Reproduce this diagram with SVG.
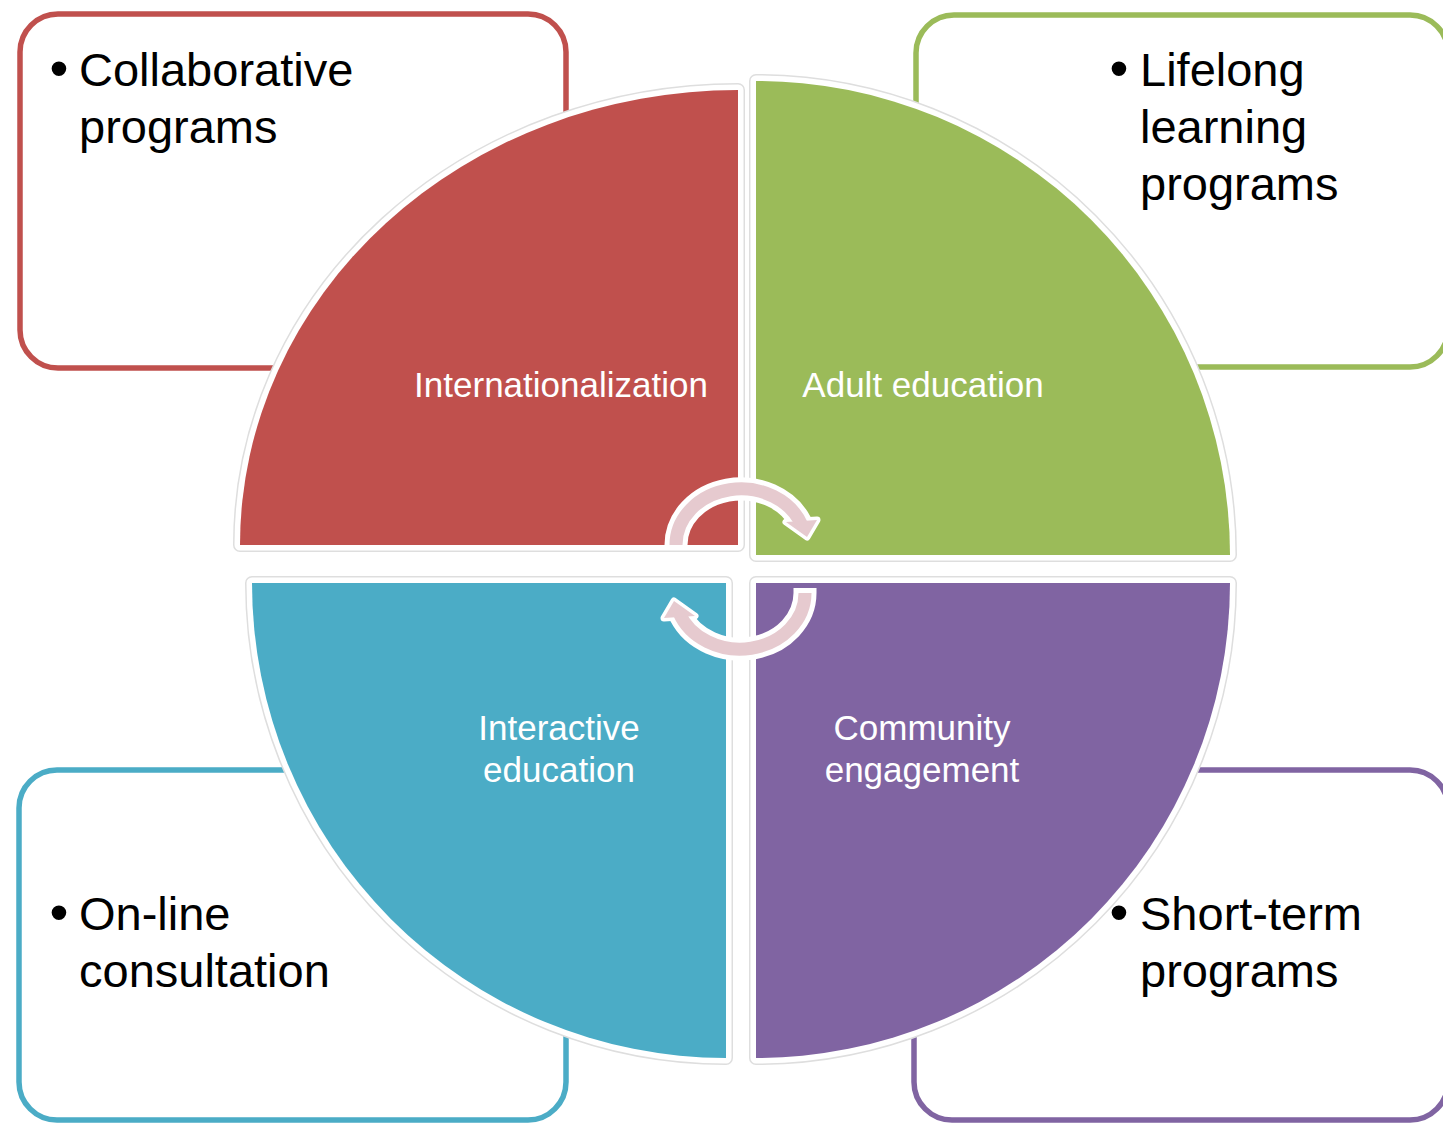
<svg xmlns="http://www.w3.org/2000/svg" width="1443" height="1126" viewBox="0 0 1443 1126">
<style>
.box{fill:#fff;stroke-width:5.5}
.t{font-family:"Liberation Sans",Arial,sans-serif;font-size:47px;fill:#000}
.bul{font-family:"Liberation Sans",Arial,sans-serif;font-size:54px;fill:#000;text-anchor:middle}
.lbl{font-family:"Liberation Sans",Arial,sans-serif;font-size:35px;fill:#fff;text-anchor:middle}
.halo{fill:none;stroke:#dedede;stroke-width:14;stroke-linejoin:round}
.edge{fill:none;stroke:#fff;stroke-width:11;stroke-linejoin:round}
</style>
<defs>
<path id="pRed" d="M738 545 L240 545 A498 455 0 0 1 738 90 Z"/>
<path id="pGreen" d="M756 555 L756 81 A474 474 0 0 1 1230 555 Z"/>
<path id="pBlue" d="M726 583 L726 1058 A474 475 0 0 1 252 583 Z"/>
<path id="pPurple" d="M756 583 L1230 583 A474 475 0 0 1 756 1058 Z"/>
<g id="arrowShape">
<path d="M676 550 L676 545 A65 56 0 0 1 800.4 522.2" fill="none" stroke="#fff" stroke-width="23"/>
<polygon points="786,522 817,520 807,537" fill="#fff" stroke="#fff" stroke-width="7" stroke-linejoin="round"/>
<path d="M676 545 A65 56 0 0 1 802.1 525.8" fill="none" stroke="#E6CACF" stroke-width="13"/>
<polygon points="786,522 817,520 807,537" fill="#E6CACF"/>
</g>
</defs>
<rect width="1443" height="1126" fill="#fff"/>

<g id="box-collaborative">
<rect class="box" x="20" y="14" width="546" height="354" rx="38" stroke="#C0504D"/>
<text class="bul" x="59" y="87">•</text>
<text class="t" x="79" y="86">Collaborative</text>
<text class="t" x="79" y="143">programs</text>
</g>
<g id="box-lifelong">
<rect class="box" x="916" y="15" width="532" height="352" rx="38" stroke="#9BBB59"/>
<text class="bul" x="1119" y="87">•</text>
<text class="t" x="1140" y="86">Lifelong</text>
<text class="t" x="1140" y="143">learning</text>
<text class="t" x="1140" y="200">programs</text>
</g>
<g id="box-online">
<rect class="box" x="19" y="770" width="547" height="350" rx="38" stroke="#4BACC6"/>
<text class="bul" x="59" y="931">•</text>
<text class="t" x="79" y="930">On-line</text>
<text class="t" x="79" y="987">consultation</text>
</g>
<g id="box-shortterm">
<rect class="box" x="914" y="770" width="534" height="350" rx="38" stroke="#8064A2"/>
<text class="bul" x="1119" y="931">•</text>
<text class="t" x="1140" y="930">Short-term</text>
<text class="t" x="1140" y="987">programs</text>
</g>

<g id="pie-internationalization">
<use href="#pRed" class="halo"/><use href="#pRed" class="edge"/><use href="#pRed" fill="#C0504D"/>
<text class="lbl" x="561" y="397">Internationalization</text>
</g>
<g id="pie-adult">
<use href="#pGreen" class="halo"/><use href="#pGreen" class="edge"/><use href="#pGreen" fill="#9BBB59"/>
<text class="lbl" x="923" y="397">Adult education</text>
</g>
<g id="pie-interactive">
<use href="#pBlue" class="halo"/><use href="#pBlue" class="edge"/><use href="#pBlue" fill="#4BACC6"/>
<text class="lbl" x="559" y="740">Interactive</text>
<text class="lbl" x="559" y="782">education</text>
</g>
<g id="pie-community">
<use href="#pPurple" class="halo"/><use href="#pPurple" class="edge"/><use href="#pPurple" fill="#8064A2"/>
<text class="lbl" x="922" y="740">Community</text>
<text class="lbl" x="922" y="782">engagement</text>
</g>

<g id="connectors">
<use href="#arrowShape"/>
<use href="#arrowShape" transform="rotate(180 740.5 569)"/>
</g>
</svg>
